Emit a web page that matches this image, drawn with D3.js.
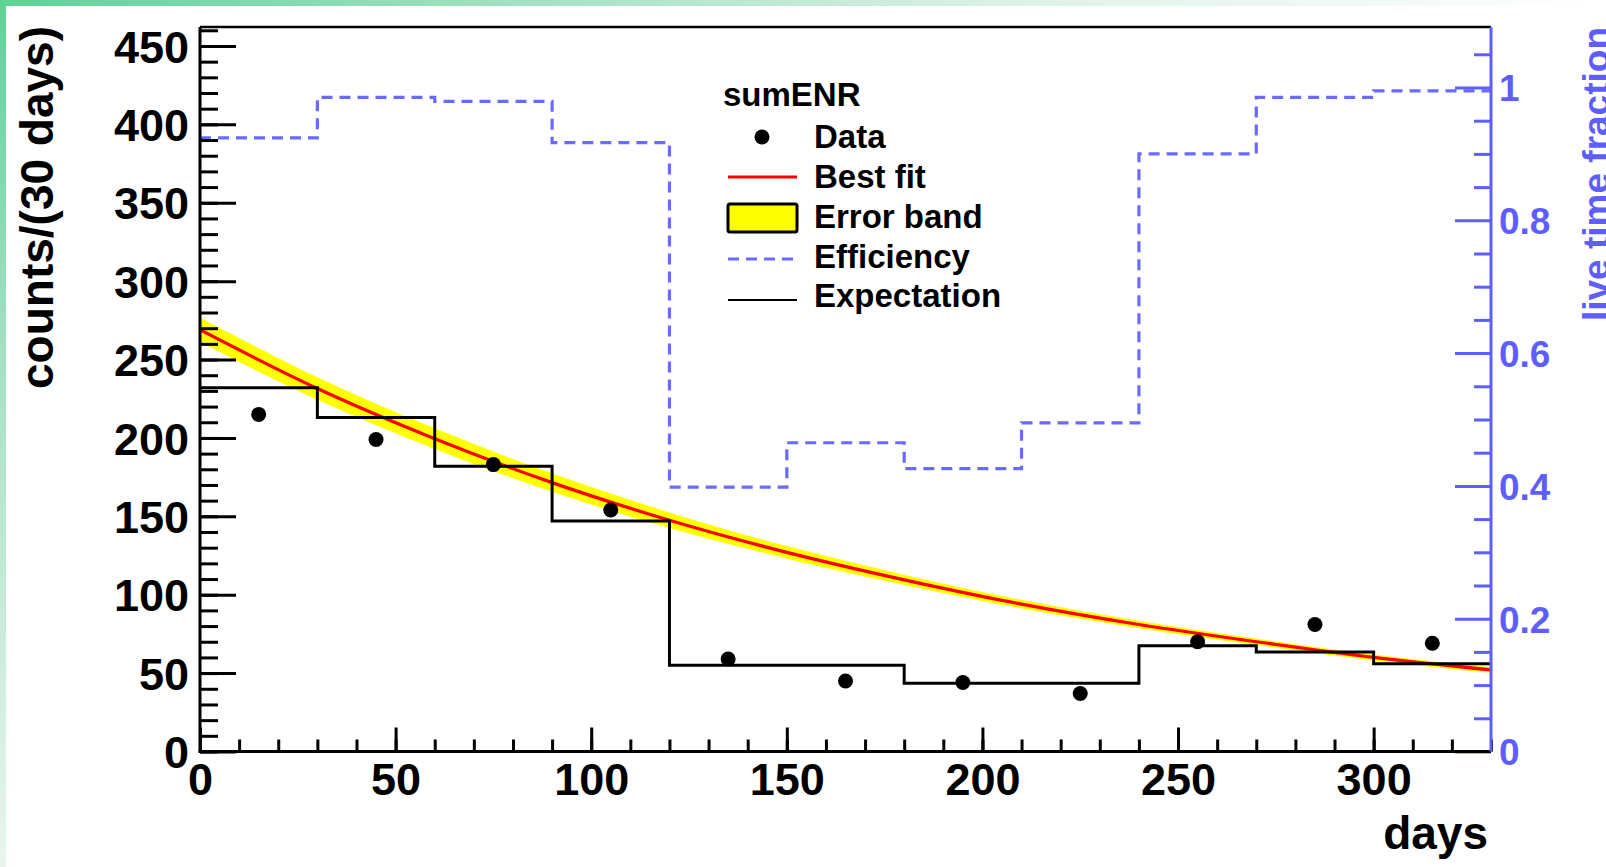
<!DOCTYPE html>
<html>
<head>
<meta charset="utf-8">
<script src="https://cdn.jsdelivr.net/npm/d3@7/dist/d3.min.js"></script>
<style>
  html, body { margin: 0; padding: 0; background: #ffffff; }
  svg { display: block; }
  text { font-family: "Liberation Sans", Arial, Helvetica, sans-serif; font-weight: bold; }
</style>
</head>
<body>
<svg id="chart" width="1606" height="867"></svg>
<script>
// 30-day bins from 0 to 330 days
const binEdges = [0, 30, 60, 90, 120, 150, 180, 210, 240, 270, 300, 330];
const binCenters = [15, 45, 75, 105, 135, 165, 195, 225, 255, 285, 315];

// measured counts per 30 days
const dataCounts = [215, 199, 183, 154, 59, 45, 44, 37, 70, 81, 69];
// expected counts per bin (live-time corrected)
const expectation = [232, 213, 182, 147, 55, 55, 43.5, 43.5, 67.5, 63.5, 56];
// live time fraction per bin (right axis)
const efficiency = [0.924, 0.985, 0.979, 0.917, 0.398, 0.465, 0.426, 0.495, 0.900, 0.985, 0.995];

// best fit curve sampled at the bin edges, with its error band half-width
const fitDays = [0, 30, 60, 90, 120, 150, 180, 210, 240, 270, 300, 330];
const fitCounts = [269, 231.5, 199.5, 171.5, 147.5, 127, 109.5, 94, 81, 70, 60, 52];
const fitError = [7.8, 7.2, 6.6, 5.9, 5.0, 4.0, 3.3, 2.8, 2.4, 2.1, 1.9, 1.8];

// axis ticks
const xMajor = [0, 50, 100, 150, 200, 250, 300];
const xMinor = d3.range(0, 331, 10);
const yMajor = [0, 50, 100, 150, 200, 250, 300, 350, 400, 450];
const yMinor = d3.range(0, 461, 10);
const effMajor = [0, 0.2, 0.4, 0.6, 0.8, 1];
const effMinor = [0.05, 0.1, 0.15, 0.25, 0.3, 0.35, 0.45, 0.5, 0.55, 0.65, 0.7, 0.75, 0.85, 0.9, 0.95, 1.05];
const effLabels = ["0", "0.2", "0.4", "0.6", "0.8", "1"];

const legendItems = ["Data", "Best fit", "Error band", "Efficiency", "Expectation"];

const BLUE = "#5e5eff";
const DASH_BLUE = "#6a6aff";

const svg = d3.select("#chart");
const W = 1606, H = 867;
const frame = { left: 200, right: 1491, top: 27, bottom: 751.5 };

// page edge decoration: green strips fading out along the top and left
const defs = svg.append("defs");
const gTop = defs.append("linearGradient").attr("id", "edgeTop").attr("x1", 0).attr("x2", 1).attr("y1", 0).attr("y2", 0);
[[0, "#5fd297"], [0.3, "#9fe0bd"], [0.65, "#def3e8"], [1, "#ffffff"]].forEach(([o, c]) =>
  gTop.append("stop").attr("offset", o).attr("stop-color", c));
const gLeft = defs.append("linearGradient").attr("id", "edgeLeft").attr("x1", 0).attr("x2", 0).attr("y1", 0).attr("y2", 1);
[[0, "#5fd297"], [0.4, "#a4e0c1"], [1, "#e8f6ee"]].forEach(([o, c]) =>
  gLeft.append("stop").attr("offset", o).attr("stop-color", c));
svg.append("rect").attr("width", W).attr("height", H).attr("fill", "#ffffff");
svg.append("rect").attr("x", 0).attr("y", 0).attr("width", W).attr("height", 6).attr("fill", "url(#edgeTop)");
svg.append("rect").attr("x", 0).attr("y", 0).attr("width", 6).attr("height", H).attr("fill", "url(#edgeLeft)");

defs.append("clipPath").attr("id", "plotClip").append("rect")
  .attr("x", frame.left).attr("y", frame.top)
  .attr("width", frame.right - frame.left).attr("height", frame.bottom - frame.top);

// scales
const x = d3.scaleLinear().domain([0, 330]).range([frame.left, frame.right]);
const y = d3.scaleLinear().domain([0, 462.1]).range([frame.bottom, frame.top]);
const yEff = d3.scaleLinear().domain([0, 1.0911]).range([frame.bottom, frame.top]);

const plot = svg.append("g").attr("clip-path", "url(#plotClip)");

// error band around the fit
const band = d3.area()
  .x((d, i) => x(fitDays[i]))
  .y0((d, i) => y(fitCounts[i] - fitError[i]))
  .y1((d, i) => y(fitCounts[i] + fitError[i]))
  .curve(d3.curveMonotoneX);
plot.append("path").datum(fitCounts).attr("d", band).attr("fill", "#ffff00");

// best fit
const fitLine = d3.line()
  .x((d, i) => x(fitDays[i]))
  .y(d => y(d))
  .curve(d3.curveMonotoneX);
plot.append("path").datum(fitCounts).attr("d", fitLine)
  .attr("fill", "none").attr("stroke", "#ff0000").attr("stroke-width", 3.2);

// step histograms: each value held across its bin
function stepPoints(values) {
  const pts = values.map((v, i) => [binEdges[i], v]);
  pts.push([binEdges[binEdges.length - 1], values[values.length - 1]]);
  return pts;
}

plot.append("path").datum(stepPoints(expectation))
  .attr("d", d3.line().x(d => x(d[0])).y(d => y(d[1])).curve(d3.curveStepAfter))
  .attr("fill", "none").attr("stroke", "#000000").attr("stroke-width", 3);

plot.append("path").datum(stepPoints(efficiency))
  .attr("d", d3.line().x(d => x(d[0])).y(d => yEff(d[1])).curve(d3.curveStepAfter))
  .attr("fill", "none").attr("stroke", DASH_BLUE).attr("stroke-width", 3.2)
  .attr("stroke-dasharray", "11,7");

// data points
svg.append("g").selectAll("circle").data(dataCounts).join("circle")
  .attr("cx", (d, i) => x(binCenters[i]))
  .attr("cy", d => y(d))
  .attr("r", 7.5)
  .attr("fill", "#000000");

// axes
function styleAxis(g, color, fontSize) {
  g.selectAll(".domain").remove();
  g.selectAll(".tick line").attr("stroke", color).attr("stroke-width", 3);
  g.selectAll(".tick text").attr("fill", color).attr("font-size", fontSize)
    .attr("font-family", "Liberation Sans, Arial, sans-serif").attr("font-weight", "bold");
}

// left axis
const gLeftMinor = svg.append("g").attr("transform", `translate(${frame.left},0)`)
  .call(d3.axisLeft(y).tickValues(yMinor).tickSize(-18).tickSizeOuter(0).tickFormat(""));
styleAxis(gLeftMinor, "#000", 45);
const gLeftMajor = svg.append("g").attr("transform", `translate(${frame.left},0)`)
  .call(d3.axisLeft(y).tickValues(yMajor).tickSize(-36).tickSizeOuter(0).tickPadding(11).tickFormat(d3.format("d")));
styleAxis(gLeftMajor, "#000", 45);
gLeftMajor.selectAll(".tick text").attr("dy", "0.36em");

// bottom axis
const gBotMinor = svg.append("g").attr("transform", `translate(0,${frame.bottom})`)
  .call(d3.axisBottom(x).tickValues(xMinor).tickSize(-12).tickSizeOuter(0).tickFormat(""));
styleAxis(gBotMinor, "#000", 45);
const gBotMajor = svg.append("g").attr("transform", `translate(0,${frame.bottom})`)
  .call(d3.axisBottom(x).tickValues(xMajor).tickSize(-24).tickSizeOuter(0).tickPadding(12).tickFormat(d3.format("d")));
styleAxis(gBotMajor, "#000", 45);

// right axis (live time fraction)
const gRightMinor = svg.append("g").attr("transform", `translate(${frame.right},0)`)
  .call(d3.axisRight(yEff).tickValues(effMinor).tickSize(-17).tickSizeOuter(0).tickFormat(""));
styleAxis(gRightMinor, BLUE, 37);
const gRightMajor = svg.append("g").attr("transform", `translate(${frame.right},0)`)
  .call(d3.axisRight(yEff).tickValues(effMajor).tickSize(-36).tickSizeOuter(0).tickPadding(8)
    .tickFormat((d, i) => effLabels[i]));
styleAxis(gRightMajor, BLUE, 37);
gRightMajor.selectAll(".tick text").attr("dy", "0.36em");

// frame lines
svg.append("line").attr("x1", frame.left).attr("x2", frame.right).attr("y1", frame.top).attr("y2", frame.top)
  .attr("stroke", "#000").attr("stroke-width", 2.5);
svg.append("line").attr("x1", frame.left).attr("x2", frame.left).attr("y1", frame.top).attr("y2", frame.bottom)
  .attr("stroke", "#000").attr("stroke-width", 3);
svg.append("line").attr("x1", frame.left - 1.5).attr("x2", frame.right).attr("y1", frame.bottom).attr("y2", frame.bottom)
  .attr("stroke", "#000").attr("stroke-width", 3);
svg.append("line").attr("x1", frame.right).attr("x2", frame.right).attr("y1", frame.top).attr("y2", frame.bottom)
  .attr("stroke", BLUE).attr("stroke-width", 3);

// axis titles
svg.append("text").attr("transform", `translate(53,${frame.top - 1}) rotate(-90)`)
  .attr("text-anchor", "end").attr("font-size", 46).attr("fill", "#000")
  .text("counts/(30 days)");
svg.append("text").attr("x", 1488).attr("y", 849)
  .attr("text-anchor", "end").attr("font-size", 46).attr("fill", "#000")
  .text("days");
svg.append("text").attr("transform", `translate(1609,${frame.top}) rotate(-90)`)
  .attr("text-anchor", "end").attr("font-size", 37).attr("fill", BLUE)
  .text("live time fraction");

// legend
const legend = svg.append("g");
legend.append("text").attr("x", 723).attr("y", 106).attr("font-size", 33).attr("fill", "#000").text("sumENR");
const rowY = [148, 188, 228, 268, 307];
const symX0 = 728, symX1 = 797, textX = 814;
legendItems.forEach((label, i) => {
  legend.append("text").attr("x", textX).attr("y", rowY[i]).attr("font-size", 33).attr("fill", "#000").text(label);
});
legend.append("circle").attr("cx", 762).attr("cy", 137).attr("r", 7.5).attr("fill", "#000");
legend.append("line").attr("x1", symX0).attr("x2", symX1).attr("y1", 177).attr("y2", 177)
  .attr("stroke", "#ff0000").attr("stroke-width", 3);
legend.append("rect").attr("x", symX0).attr("y", 204).attr("width", symX1 - symX0).attr("height", 28)
  .attr("fill", "#ffff00").attr("stroke", "#000").attr("stroke-width", 3).attr("rx", 2);
legend.append("line").attr("x1", symX0).attr("x2", symX1).attr("y1", 259).attr("y2", 259)
  .attr("stroke", DASH_BLUE).attr("stroke-width", 3.2).attr("stroke-dasharray", "11,7");
legend.append("line").attr("x1", symX0).attr("x2", symX1).attr("y1", 300).attr("y2", 300)
  .attr("stroke", "#000").attr("stroke-width", 2);
</script>
</body>
</html>
